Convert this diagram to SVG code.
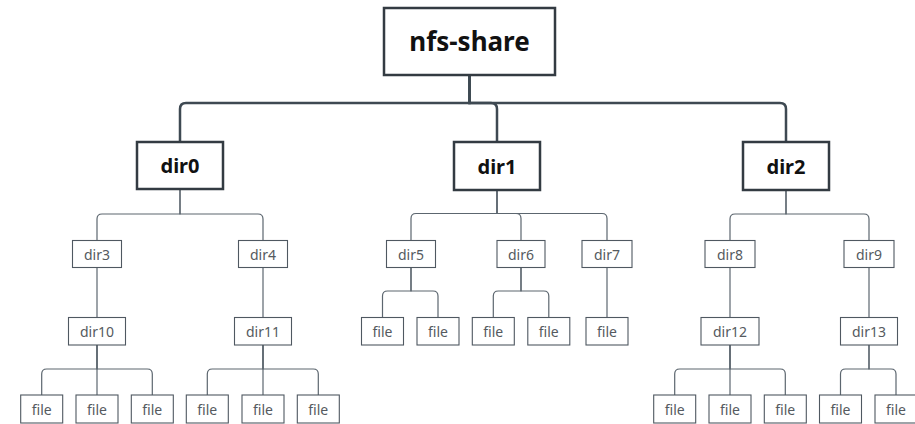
<svg xmlns="http://www.w3.org/2000/svg" width="915" height="424" viewBox="0 0 915 424">
  <style>
    .bg { fill: #ffffff; }
    .box-main { fill: #ffffff; stroke: #333b42; stroke-width: 2.5; }
    .box { fill: #ffffff; stroke: #4f5861; stroke-width: 1.1; }
    .t-root { font-family: "Noto Sans", "Open Sans", sans-serif; font-weight: bold; font-size: 26px; fill: #111111; text-anchor: middle; dominant-baseline: central; }
    .t-main { font-family: "Noto Sans", "Open Sans", sans-serif; font-weight: bold; font-size: 20px; fill: #111111; text-anchor: middle; dominant-baseline: central; }
    .t { font-family: "Noto Sans", "Open Sans", sans-serif; font-size: 14px; fill: #555a60; text-anchor: middle; dominant-baseline: central; }
    .link-main { fill: none; stroke: #3e4952; stroke-width: 2.5; }
    .link { fill: none; stroke: #5c666f; stroke-width: 1.2; }
  </style>
  <rect class="bg" x="0" y="0" width="915" height="424"/>

  <!-- connectors -->
  <g id="connectors">
    <!-- root to first level -->
    <path class="link-main" d="M469.5 75 V103 H186 Q180 103 180 109 V142"/>
    <path class="link-main" d="M469.5 75 V103 H491 Q497 103 497 109 V142"/>
    <path class="link-main" d="M469.5 75 V103 H780 Q786 103 786 109 V142"/>

    <!-- dir0 children -->
    <path class="link" d="M180 189 V214 H102 Q97 214 97 219 V240.5"/>
    <path class="link" d="M180 189 V214 H258 Q263 214 263 219 V240.5"/>
    <!-- dir1 children -->
    <path class="link" d="M497 190 V213.5 H416 Q411 213.5 411 218.5 V240.5"/>
    <path class="link" d="M497 190 V213.5 H516 Q521 213.5 521 218.5 V240.5"/>
    <path class="link" d="M497 190 V213.5 H602 Q607 213.5 607 218.5 V240.5"/>
    <!-- dir2 children -->
    <path class="link" d="M786 190 V214 H735 Q730 214 730 219 V240.5"/>
    <path class="link" d="M786 190 V214 H864 Q869 214 869 219 V240.5"/>

    <!-- third level -->
    <path class="link" d="M97 267.5 V317.5"/>
    <path class="link" d="M263 267.5 V317.5"/>
    <path class="link" d="M730 267.5 V317.5"/>
    <path class="link" d="M869 267.5 V317.5"/>
    <path class="link" d="M607 267.5 V317.5"/>
    <path class="link" d="M411 267.5 V291 H387.5 Q382.5 291 382.5 296 V317.5"/>
    <path class="link" d="M411 267.5 V291 H433 Q438 291 438 296 V317.5"/>
    <path class="link" d="M521 267.5 V291 H498.3 Q493.3 291 493.3 296 V317.5"/>
    <path class="link" d="M521 267.5 V291 H543.8 Q548.8 291 548.8 296 V317.5"/>

    <!-- fourth level -->
    <path class="link" d="M97 345 V369 H46.7 Q41.7 369 41.7 374 V395"/>
    <path class="link" d="M97 345 V395"/>
    <path class="link" d="M97 345 V369 H147.3 Q152.3 369 152.3 374 V395"/>
    <path class="link" d="M263 345 V369 H212.3 Q207.3 369 207.3 374 V395"/>
    <path class="link" d="M263 345 V395"/>
    <path class="link" d="M263 345 V369 H313.3 Q318.3 369 318.3 374 V395"/>
    <path class="link" d="M730 345 V369 H679.7 Q674.7 369 674.7 374 V395"/>
    <path class="link" d="M730 345 V395"/>
    <path class="link" d="M730 345 V369 H780.3 Q785.3 369 785.3 374 V395"/>
    <path class="link" d="M869 345 V369 H845.5 Q840.5 369 840.5 374 V395"/>
    <path class="link" d="M869 345 V369 H891 Q896 369 896 374 V395"/>
  </g>

  <!-- root -->
  <g id="nfs-share">
    <rect class="box-main" x="384" y="8" width="171" height="67"/>
    <text class="t-root" x="469.5" y="41">nfs-share</text>
  </g>

  <!-- first level -->
  <g id="dir0">
    <rect class="box-main" x="137" y="142" width="86" height="47"/>
    <text class="t-main" x="180" y="165.5">dir0</text>
  </g>
  <g id="dir1">
    <rect class="box-main" x="454" y="142" width="86" height="48"/>
    <text class="t-main" x="497" y="166">dir1</text>
  </g>
  <g id="dir2">
    <rect class="box-main" x="743" y="142" width="86" height="48"/>
    <text class="t-main" x="786" y="166">dir2</text>
  </g>

  <!-- second level -->
  <g id="dir3"><rect class="box" x="72.5" y="240.5" width="49" height="27"/><text class="t" x="97" y="254">dir3</text></g>
  <g id="dir4"><rect class="box" x="238.5" y="240.5" width="49" height="27"/><text class="t" x="263" y="254">dir4</text></g>
  <g id="dir5"><rect class="box" x="386.5" y="240.5" width="49" height="27"/><text class="t" x="411" y="254">dir5</text></g>
  <g id="dir6"><rect class="box" x="497" y="240.5" width="48" height="27"/><text class="t" x="521" y="254">dir6</text></g>
  <g id="dir7"><rect class="box" x="582" y="240.5" width="50" height="27"/><text class="t" x="607" y="254">dir7</text></g>
  <g id="dir8"><rect class="box" x="705" y="240.5" width="50" height="27"/><text class="t" x="730" y="254">dir8</text></g>
  <g id="dir9"><rect class="box" x="844" y="240.5" width="50" height="27"/><text class="t" x="869" y="254">dir9</text></g>

  <!-- third level -->
  <g id="dir10"><rect class="box" x="68.5" y="317.5" width="57" height="27.5"/><text class="t" x="97" y="331.2">dir10</text></g>
  <g id="dir11"><rect class="box" x="234.5" y="317.5" width="57" height="27.5"/><text class="t" x="263" y="331.2">dir11</text></g>
  <g id="dir12"><rect class="box" x="701" y="317.5" width="58" height="27.5"/><text class="t" x="730" y="331.2">dir12</text></g>
  <g id="dir13"><rect class="box" x="840.5" y="317.5" width="57" height="27.5"/><text class="t" x="869" y="331.2">dir13</text></g>
  <g id="file-dir5-a"><rect class="box" x="361.5" y="317.5" width="42" height="27.5"/><text class="t" x="382.5" y="331.2">file</text></g>
  <g id="file-dir5-b"><rect class="box" x="417" y="317.5" width="42" height="27.5"/><text class="t" x="438" y="331.2">file</text></g>
  <g id="file-dir6-a"><rect class="box" x="472.3" y="317.5" width="42" height="27.5"/><text class="t" x="493.3" y="331.2">file</text></g>
  <g id="file-dir6-b"><rect class="box" x="527.8" y="317.5" width="42" height="27.5"/><text class="t" x="548.8" y="331.2">file</text></g>
  <g id="file-dir7"><rect class="box" x="586" y="317.5" width="42" height="27.5"/><text class="t" x="607" y="331.2">file</text></g>

  <!-- fourth level -->
  <g id="file-dir10-a"><rect class="box" x="20.7" y="395" width="42" height="28"/><text class="t" x="41.7" y="409">file</text></g>
  <g id="file-dir10-b"><rect class="box" x="76" y="395" width="42" height="28"/><text class="t" x="97" y="409">file</text></g>
  <g id="file-dir10-c"><rect class="box" x="131.3" y="395" width="42" height="28"/><text class="t" x="152.3" y="409">file</text></g>
  <g id="file-dir11-a"><rect class="box" x="186.3" y="395" width="42" height="28"/><text class="t" x="207.3" y="409">file</text></g>
  <g id="file-dir11-b"><rect class="box" x="242" y="395" width="42" height="28"/><text class="t" x="263" y="409">file</text></g>
  <g id="file-dir11-c"><rect class="box" x="297.3" y="395" width="42" height="28"/><text class="t" x="318.3" y="409">file</text></g>
  <g id="file-dir12-a"><rect class="box" x="653.7" y="395" width="42" height="28"/><text class="t" x="674.7" y="409">file</text></g>
  <g id="file-dir12-b"><rect class="box" x="709" y="395" width="42" height="28"/><text class="t" x="730" y="409">file</text></g>
  <g id="file-dir12-c"><rect class="box" x="764.3" y="395" width="42" height="28"/><text class="t" x="785.3" y="409">file</text></g>
  <g id="file-dir13-a"><rect class="box" x="819.5" y="395" width="42" height="28"/><text class="t" x="840.5" y="409">file</text></g>
  <g id="file-dir13-b"><rect class="box" x="875" y="395" width="42" height="28"/><text class="t" x="896" y="409">file</text></g>
</svg>
